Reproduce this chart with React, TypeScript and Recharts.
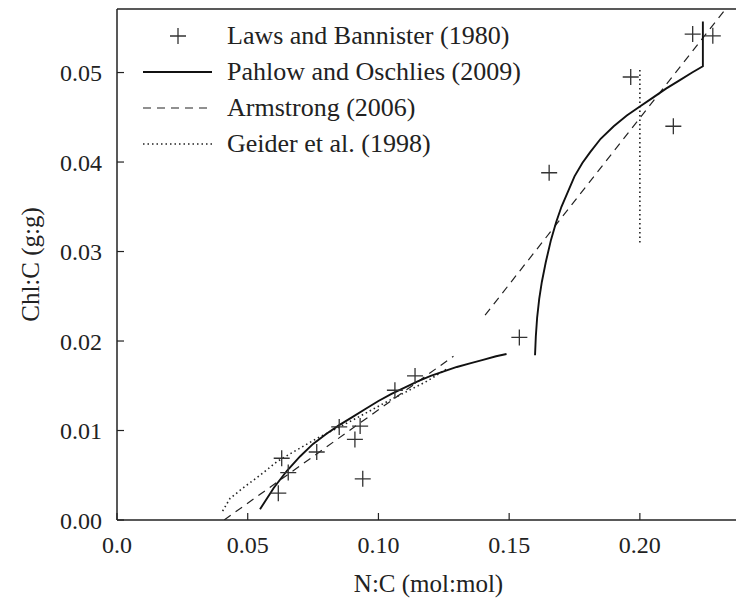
import React from "react";
import { ScatterChart, Scatter, XAxis, YAxis, Legend, Label } from "recharts";

// Laws and Bannister (1980) observations
const LAWS_X = [0.0617, 0.063, 0.0655, 0.0764, 0.085, 0.091, 0.093, 0.094, 0.1063, 0.114, 0.1539, 0.1653, 0.1965, 0.2128, 0.2202, 0.2279];
const LAWS_Y = [0.003, 0.0069, 0.0053, 0.0076, 0.0104, 0.009, 0.0105, 0.0046, 0.0145, 0.0161, 0.0204, 0.0388, 0.0495, 0.044, 0.0543, 0.0541];

// Pahlow and Oschlies (2009), two branches
const PAHLOW_A_X = [0.0547, 0.06, 0.065, 0.07, 0.075, 0.08, 0.085, 0.09, 0.095, 0.1, 0.105, 0.11, 0.115, 0.12, 0.125, 0.13, 0.135, 0.14, 0.145, 0.149];
const PAHLOW_A_Y = [0.0012, 0.0036, 0.0055, 0.0071, 0.0085, 0.0096, 0.0106, 0.0115, 0.0124, 0.0133, 0.0141, 0.0148, 0.0155, 0.0161, 0.0166, 0.0171, 0.0175, 0.0179, 0.0183, 0.01855];
const PAHLOW_B_X = [0.1599, 0.1602, 0.1607, 0.1615, 0.1625, 0.164, 0.166, 0.168, 0.17, 0.1725, 0.175, 0.178, 0.181, 0.185, 0.19, 0.195, 0.2, 0.205, 0.21, 0.215, 0.22, 0.2241, 0.2241];
const PAHLOW_B_Y = [0.0184, 0.0205, 0.0226, 0.0247, 0.0266, 0.0288, 0.0313, 0.0333, 0.035, 0.0367, 0.0384, 0.0399, 0.0411, 0.0426, 0.044, 0.0452, 0.0462, 0.0472, 0.0482, 0.0491, 0.05, 0.0507, 0.0557];

// Armstrong (2006), two linear pieces
const ARM_A_X = [0.041, 0.1287];
const ARM_A_Y = [0.0, 0.0183];
const ARM_B_X = [0.1408, 0.2325];
const ARM_B_Y = [0.0229, 0.057];

// Geider et al. (1998)
const GEIDER_A_X = [0.0404, 0.0432, 0.0483, 0.0547, 0.0611, 0.0674, 0.0764, 0.0904, 0.1044, 0.1185, 0.1268];
const GEIDER_A_Y = [0.001, 0.0024, 0.0036, 0.005, 0.0065, 0.0076, 0.0091, 0.0112, 0.0134, 0.0155, 0.017];
const GEIDER_B_X = [0.2, 0.2];
const GEIDER_B_Y = [0.031, 0.0503];

const X_TICKS = [0, 0.05, 0.1, 0.15, 0.2];
const Y_TICKS = [0, 0.01, 0.02, 0.03, 0.04, 0.05];

const pts = (xs: number[], ys: number[]) => xs.map((x, i) => ({ x, y: ys[i] }));

const FONT = '"Liberation Serif", "DejaVu Serif", serif';
const INK = "#222";

const SOLID = { stroke: "#111", strokeWidth: 1.9 };
const DASHED = { stroke: "#222", strokeWidth: 1.2, strokeDasharray: "8 6" };
const DOTTED = { stroke: "#222", strokeWidth: 1.6, strokeDasharray: "1.5 3" };

const LEGEND_ITEMS = [
  { name: "Laws and Bannister (1980)", kind: "plus" },
  { name: "Pahlow and Oschlies (2009)", kind: "solid" },
  { name: "Armstrong (2006)", kind: "dashed" },
  { name: "Geider et al. (1998)", kind: "dotted" },
];

const Plus = (props: any) => {
  const { cx, cy } = props;
  return (
    <path
      d={`M${cx - 8},${cy}h16M${cx},${cy - 8}v16`}
      stroke="#333"
      strokeWidth={1.3}
      fill="none"
    />
  );
};

const NoShape = () => <g />;

function LegendBox() {
  return (
    <div style={{ fontFamily: FONT, fontSize: 26, color: INK, lineHeight: "30px" }}>
      {LEGEND_ITEMS.map((item) => (
        <div key={item.name} style={{ display: "flex", alignItems: "center", height: 36 }}>
          <svg width={84} height={20} style={{ flex: "none" }}>
            {item.kind === "plus" && (
              <path d="M27,10h16M35,2v16" stroke="#333" strokeWidth={1.3} />
            )}
            {item.kind === "solid" && <line x1={0} y1={10} x2={69} y2={10} {...SOLID} />}
            {item.kind === "dashed" && <line x1={0} y1={10} x2={69} y2={10} {...DASHED} />}
            {item.kind === "dotted" && <line x1={0} y1={10} x2={69} y2={10} {...DOTTED} />}
          </svg>
          <span style={{ whiteSpace: "nowrap" }}>{item.name}</span>
        </div>
      ))}
    </div>
  );
}

export default function App() {
  const xMax = 0.2383;
  const yMax = 0.0571;
  const tickStyle = { fontSize: 24, fill: INK, fontFamily: FONT };
  const titleStyle = { fontSize: 25, fill: INK, fontFamily: FONT };

  return (
    <div style={{ position: "absolute", left: 0, top: 0, fontFamily: FONT }}>
      <ScatterChart width={740} height={606} margin={{ top: 0, right: 0, left: 0, bottom: 0 }} style={{ fontFamily: FONT }}>
        <XAxis
          type="number"
          dataKey="x"
          domain={[0, xMax]}
          allowDataOverflow
          ticks={X_TICKS}
          tickFormatter={(v: number) => (v === 0 ? "0.0" : v.toFixed(2))}
          tick={tickStyle}
          tickSize={-7}
          tickMargin={23}
          height={86}
          axisLine={{ stroke: INK, strokeWidth: 1.5 }}
          tickLine={{ stroke: INK, strokeWidth: 1.2 }}
        >
          <Label value="N:C (mol:mol)" position="insideBottom" offset={14} style={titleStyle} />
        </XAxis>
        <XAxis
          xAxisId="top"
          orientation="top"
          type="number"
          dataKey="x"
          domain={[0, xMax]}
          allowDataOverflow
          ticks={X_TICKS}
          tick={false}
          tickSize={-7}
          height={9}
          axisLine={{ stroke: INK, strokeWidth: 1.5 }}
          tickLine={{ stroke: INK, strokeWidth: 1.2 }}
        />
        <YAxis
          type="number"
          dataKey="y"
          domain={[0, yMax]}
          allowDataOverflow
          ticks={Y_TICKS}
          tickFormatter={(v: number) => v.toFixed(2)}
          tick={tickStyle}
          tickSize={-7}
          tickMargin={22}
          width={117}
          axisLine={{ stroke: INK, strokeWidth: 1.5 }}
          tickLine={{ stroke: INK, strokeWidth: 1.2 }}
        >
          <Label
            value="Chl:C (g:g)"
            angle={-90}
            position="center"
            dx={-28}
            style={{ ...titleStyle, textAnchor: "middle" }}
          />
        </YAxis>
        <Legend
          layout="vertical"
          align="center"
          verticalAlign="middle"
          content={() => <LegendBox />}
          wrapperStyle={{ position: "absolute", left: 143, top: 18, width: 460 }}
        />
        <Scatter name="Geider et al. (1998)" data={pts(GEIDER_A_X, GEIDER_A_Y)} fill="none" line={DOTTED} shape={NoShape} isAnimationActive={false} />
        <Scatter name="Geider b" legendType="none" data={pts(GEIDER_B_X, GEIDER_B_Y)} fill="none" line={DOTTED} shape={NoShape} isAnimationActive={false} />
        <Scatter name="Armstrong (2006)" data={pts(ARM_A_X, ARM_A_Y)} fill="none" line={DASHED} shape={NoShape} isAnimationActive={false} />
        <Scatter name="Armstrong b" legendType="none" data={pts(ARM_B_X, ARM_B_Y)} fill="none" line={DASHED} shape={NoShape} isAnimationActive={false} />
        <Scatter name="Pahlow and Oschlies (2009)" data={pts(PAHLOW_A_X, PAHLOW_A_Y)} fill="none" line={SOLID} shape={NoShape} isAnimationActive={false} />
        <Scatter name="Pahlow b" legendType="none" data={pts(PAHLOW_B_X, PAHLOW_B_Y)} fill="none" line={SOLID} shape={NoShape} isAnimationActive={false} />
        <Scatter name="Laws and Bannister (1980)" data={pts(LAWS_X, LAWS_Y)} fill="#333" shape={Plus} isAnimationActive={false} />
      </ScatterChart>
    </div>
  );
}
